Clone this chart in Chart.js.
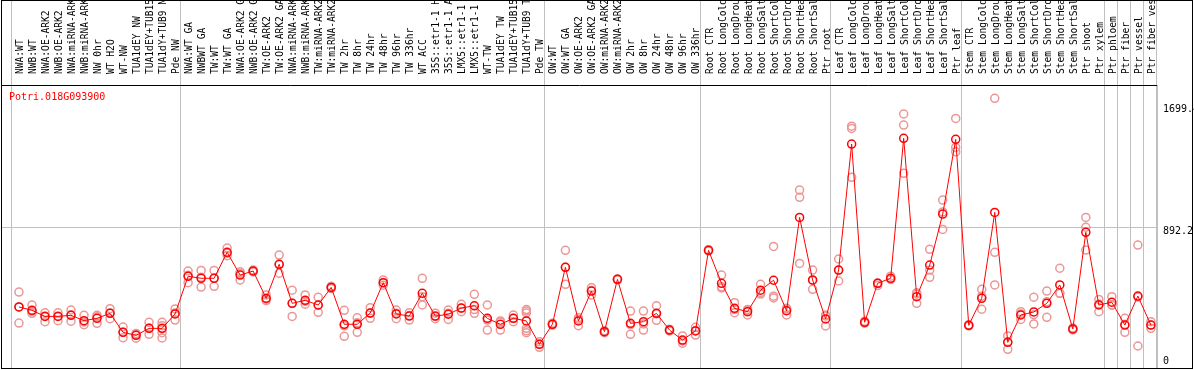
<!DOCTYPE html>
<html>
<head>
<meta charset="utf-8">
<script src="https://cdn.jsdelivr.net/npm/chart.js@4/dist/chart.umd.min.js"></script>
<style>
  body { margin: 0; background: #fff; }
  #wrap { position: relative; width: 1194px; height: 370px; }
  #frame { position: absolute; left: 1px; top: 0; width: 1192px; height: 369px; border: 1px solid #000; box-sizing: border-box; pointer-events: none; }
  #gene { position: absolute; left: 9px; top: 91px; font: 10px "DejaVu Sans Mono", monospace; color: #f00; }
</style>
</head>
<body>
<div id="wrap">
  <canvas id="chart" width="1194" height="370"></canvas>
  <div id="frame"></div>
  <div id="gene">Potri.018G093900</div>
</div>
<script>
// sample names, left to right
const categories = [
  'NWA:WT', 'NWB:WT', 'NWA:OE-ARK2', 'NWB:OE-ARK2', 'NWA:miRNA-ARK2', 'NWB:miRNA-ARK2',
  'NW 0hr', 'WT H2O', 'WT-NW', 'TUA1dEY NW', 'TUA1dEY+TUB15 NW', 'TUA1dY+TUB9 NW', 'Pde NW',
  'NWA:WT GA', 'NWBWT GA', 'TW:WT', 'TW:WT GA', 'NWA:OE-ARK2 GA', 'NWB:OE-ARK2 GA',
  'TW:OE-ARK2', 'TW:OE-ARK2 GA', 'NWA:miRNA-ARK2 GA', 'NWB:miRNA-ARK2 GA', 'TW:miRNA-ARK2',
  'TW:miRNA-ARK2 GA', 'TW 2hr', 'TW 8hr', 'TW 24hr', 'TW 48hr', 'TW 96hr', 'TW 336hr',
  'WT ACC', '35S::etr1-1 H2O', '35S::etr1-1 ACC', 'LMX5::etr1-1 H2O', 'LMX5::etr1-1 ACC',
  'WT-TW', 'TUA1dEY TW', 'TUA1dEY+TUB15 TW', 'TUA1dY+TUB9 TW', 'Pde TW',
  'OW:WT', 'OW:WT GA', 'OW:OE-ARK2', 'OW:OE-ARK2 GA', 'OW:miRNA-ARK2', 'OW:miRNA-ARK2 GA',
  'OW 2hr', 'OW 8hr', 'OW 24hr', 'OW 48hr', 'OW 96hr', 'OW 336hr',
  'Root CTR', 'Root LongCold', 'Root LongDrought', 'Root LongHeat', 'Root LongSalt',
  'Root ShortCold', 'Root ShortDrought', 'Root ShortHeat', 'Root ShortSalt', 'Ptr root',
  'Leaf CTR', 'Leaf LongCold', 'Leaf LongDrought', 'Leaf LongHeat', 'Leaf LongSalt',
  'Leaf ShortCold', 'Leaf ShortDrought', 'Leaf ShortHeat', 'Leaf ShortSalt', 'Ptr leaf',
  'Stem CTR', 'Stem LongCold', 'Stem LongDrought', 'Stem LongHeat', 'Stem LongSalt',
  'Stem ShortCold', 'Stem ShortDrought', 'Stem ShortHeat', 'Stem ShortSalt', 'Ptr shoot',
  'Ptr xylem', 'Ptr phloem', 'Ptr fiber', 'Ptr vessel', 'Ptr fiber vessel'
];

// mean expression per sample
const means = [
  369, 347, 307, 307, 314, 279, 294, 327, 202, 182, 228, 228, 323,
  571, 558, 558, 729, 579, 606, 426, 650, 393, 413, 382, 498, 255, 255, 329, 529, 323, 309,
  459, 309, 321, 362, 377, 294, 255, 294, 277, 123,
  255, 630, 277, 474, 206, 551, 261, 272, 327, 217, 151, 211,
  742, 525, 360, 338, 479, 545, 344, 959, 547, 290,
  612, 1442, 268, 525, 558, 1480, 437, 645, 981, 1473,
  248, 426, 992, 136, 316, 336, 393, 514, 224, 861, 382,
  400, 250, 441, 250
];

// replicate values per sample
const reps = [
  [467, 369, 263], [382, 327, 340], [331, 272, 310], [331, 279, 310], [349, 275, 318],
  [314, 270, 252], [314, 261, 305], [358, 292, 330], [237, 167, 203], [163, 195, 188],
  [268, 189, 228], [268, 246, 226, 200, 165], [356, 283, 330],
  [606, 529, 578], [610, 500, 565], [610, 505, 560], [757, 707, 723], [601, 547, 590],
  [606, 600, 612], [448, 410, 420], [711, 591, 648], [479, 307, 393], [448, 387, 405],
  [433, 334, 380], [505, 490, 500], [347, 176, 245], [298, 202, 265], [364, 294, 329],
  [547, 512, 528], [349, 292, 328], [331, 283, 313],
  [558, 382, 437], [328, 292, 307], [349, 287, 327], [387, 338, 361], [452, 327, 352],
  [382, 217, 283], [277, 217, 270], [316, 272, 294], [352, 342, 330, 228, 212, 200], [140, 103, 125],
  [262, 250, 253], [742, 518, 630], [298, 246, 287], [496, 448, 478], [212, 200, 206],
  [551, 548, 554], [342, 189, 252], [342, 217, 257], [377, 281, 323], [223, 211, 217],
  [178, 130, 145], [235, 184, 214],
  [742, 738, 746], [579, 502, 494], [397, 331, 352], [345, 316, 353], [518, 454, 465],
  [768, 428, 440], [355, 316, 361], [1139, 1091, 656], [612, 485, 544], [316, 244, 310],
  [685, 540, 611], [1560, 1545, 1223], [275, 262, 268], [527, 510, 523], [572, 550, 552],
  [1640, 1567, 1249], [393, 455, 462], [749, 612, 564], [1073, 995, 880], [1611, 1420, 1391],
  [252, 244, 248], [485, 354, 440], [1743, 729, 514], [178, 90, 140], [338, 287, 323],
  [433, 257, 318], [474, 301, 404], [624, 459, 459], [230, 218, 224], [959, 894, 744],
  [419, 338, 389],
  [437, 382, 381], [294, 202, 254], [777, 434, 112], [272, 228, 250]
];

// last sample index of each group (vertical separators after them)
const groupEnds = [12, 40, 52, 62, 72, 83, 84, 85, 86, 87];

const yTicks = [0, 892.2, 1699.4];

const font = { family: 'DejaVu Sans Mono', size: 10 };
const xMin = -1.38, xMax = 87.47;

const meanPoints = means.map((v, i) => ({ x: i, y: v }));
const repPoints = [];
reps.forEach((r, i) => r.forEach(v => repPoints.push({ x: i, y: v })));

// drop the extra padding chart.js reserves for overhanging labels
function noPad(s) {
  s.paddingLeft = 0; s.paddingRight = 0; s.paddingTop = 0; s.paddingBottom = 0;
}

new Chart(document.getElementById('chart'), {
  type: 'scatter',
  data: {
    datasets: [
      {
        label: 'mean',
        type: 'line',
        data: meanPoints,
        borderColor: '#ff0000',
        borderWidth: 1,
        pointRadius: 4,
        pointBorderWidth: 1.5,
        pointBorderColor: '#ff0000',
        pointBackgroundColor: 'rgba(0,0,0,0)',
        tension: 0
      },
      {
        label: 'replicates',
        data: repPoints,
        showLine: false,
        pointRadius: 4,
        pointBorderWidth: 1.5,
        pointBorderColor: 'rgb(236,150,150)',
        pointBackgroundColor: 'rgba(0,0,0,0)'
      }
    ]
  },
  options: {
    responsive: false,
    animation: false,
    layout: { autoPadding: false, padding: { left: 1, bottom: 2, top: 0, right: 0 } },
    plugins: { legend: { display: false }, tooltip: { enabled: false } },
    scales: {
      x: {
        type: 'linear',
        position: 'top',
        weight: 1,
        min: xMin,
        max: xMax,
        afterBuildTicks: s => { s.ticks = categories.map((c, i) => ({ value: i })); },
        afterFit: s => { s.height = 85; noPad(s); },
        grid: { display: false },
        border: { display: true, color: '#000', width: 1 },
        ticks: {
          autoSkip: false,
          minRotation: 90,
          maxRotation: 90,
          padding: 3,
          labelOffset: 13,
          color: '#000',
          font: { family: 'DejaVu Sans Mono', size: 9.6 },
          callback: v => categories[v]
        }
      },
      xg: {
        type: 'linear',
        position: 'top',
        weight: 0,
        min: xMin,
        max: xMax,
        afterBuildTicks: s => {
          s.ticks = [-1].concat(groupEnds).map(i => ({ value: i + 0.41 }));
        },
        afterFit: s => { s.height = 0; noPad(s); },
        border: { display: false },
        grid: { color: '#c0c0c0', lineWidth: 1, tickLength: 85 },
        ticks: { display: false }
      },
      y: {
        position: 'right',
        min: -33,
        max: 1831,
        afterBuildTicks: s => { s.ticks = yTicks.map(v => ({ value: v })); },
        afterFit: s => { s.width = 37; noPad(s); },
        border: { display: true, color: '#c0c0c0' },
        grid: {
          drawTicks: false,
          color: c => (c.tick && c.tick.value === 892.2 ? '#c0c0c0' : 'rgba(0,0,0,0)')
        },
        ticks: {
          padding: 6,
          labelOffset: 4,
          color: '#000',
          font: font,
          // the bottom label sits a little higher so it stays inside the frame
          callback: v => (v === 0 ? ['0', ''] : String(v))
        }
      }
    }
  }
});
</script>
</body>
</html>
